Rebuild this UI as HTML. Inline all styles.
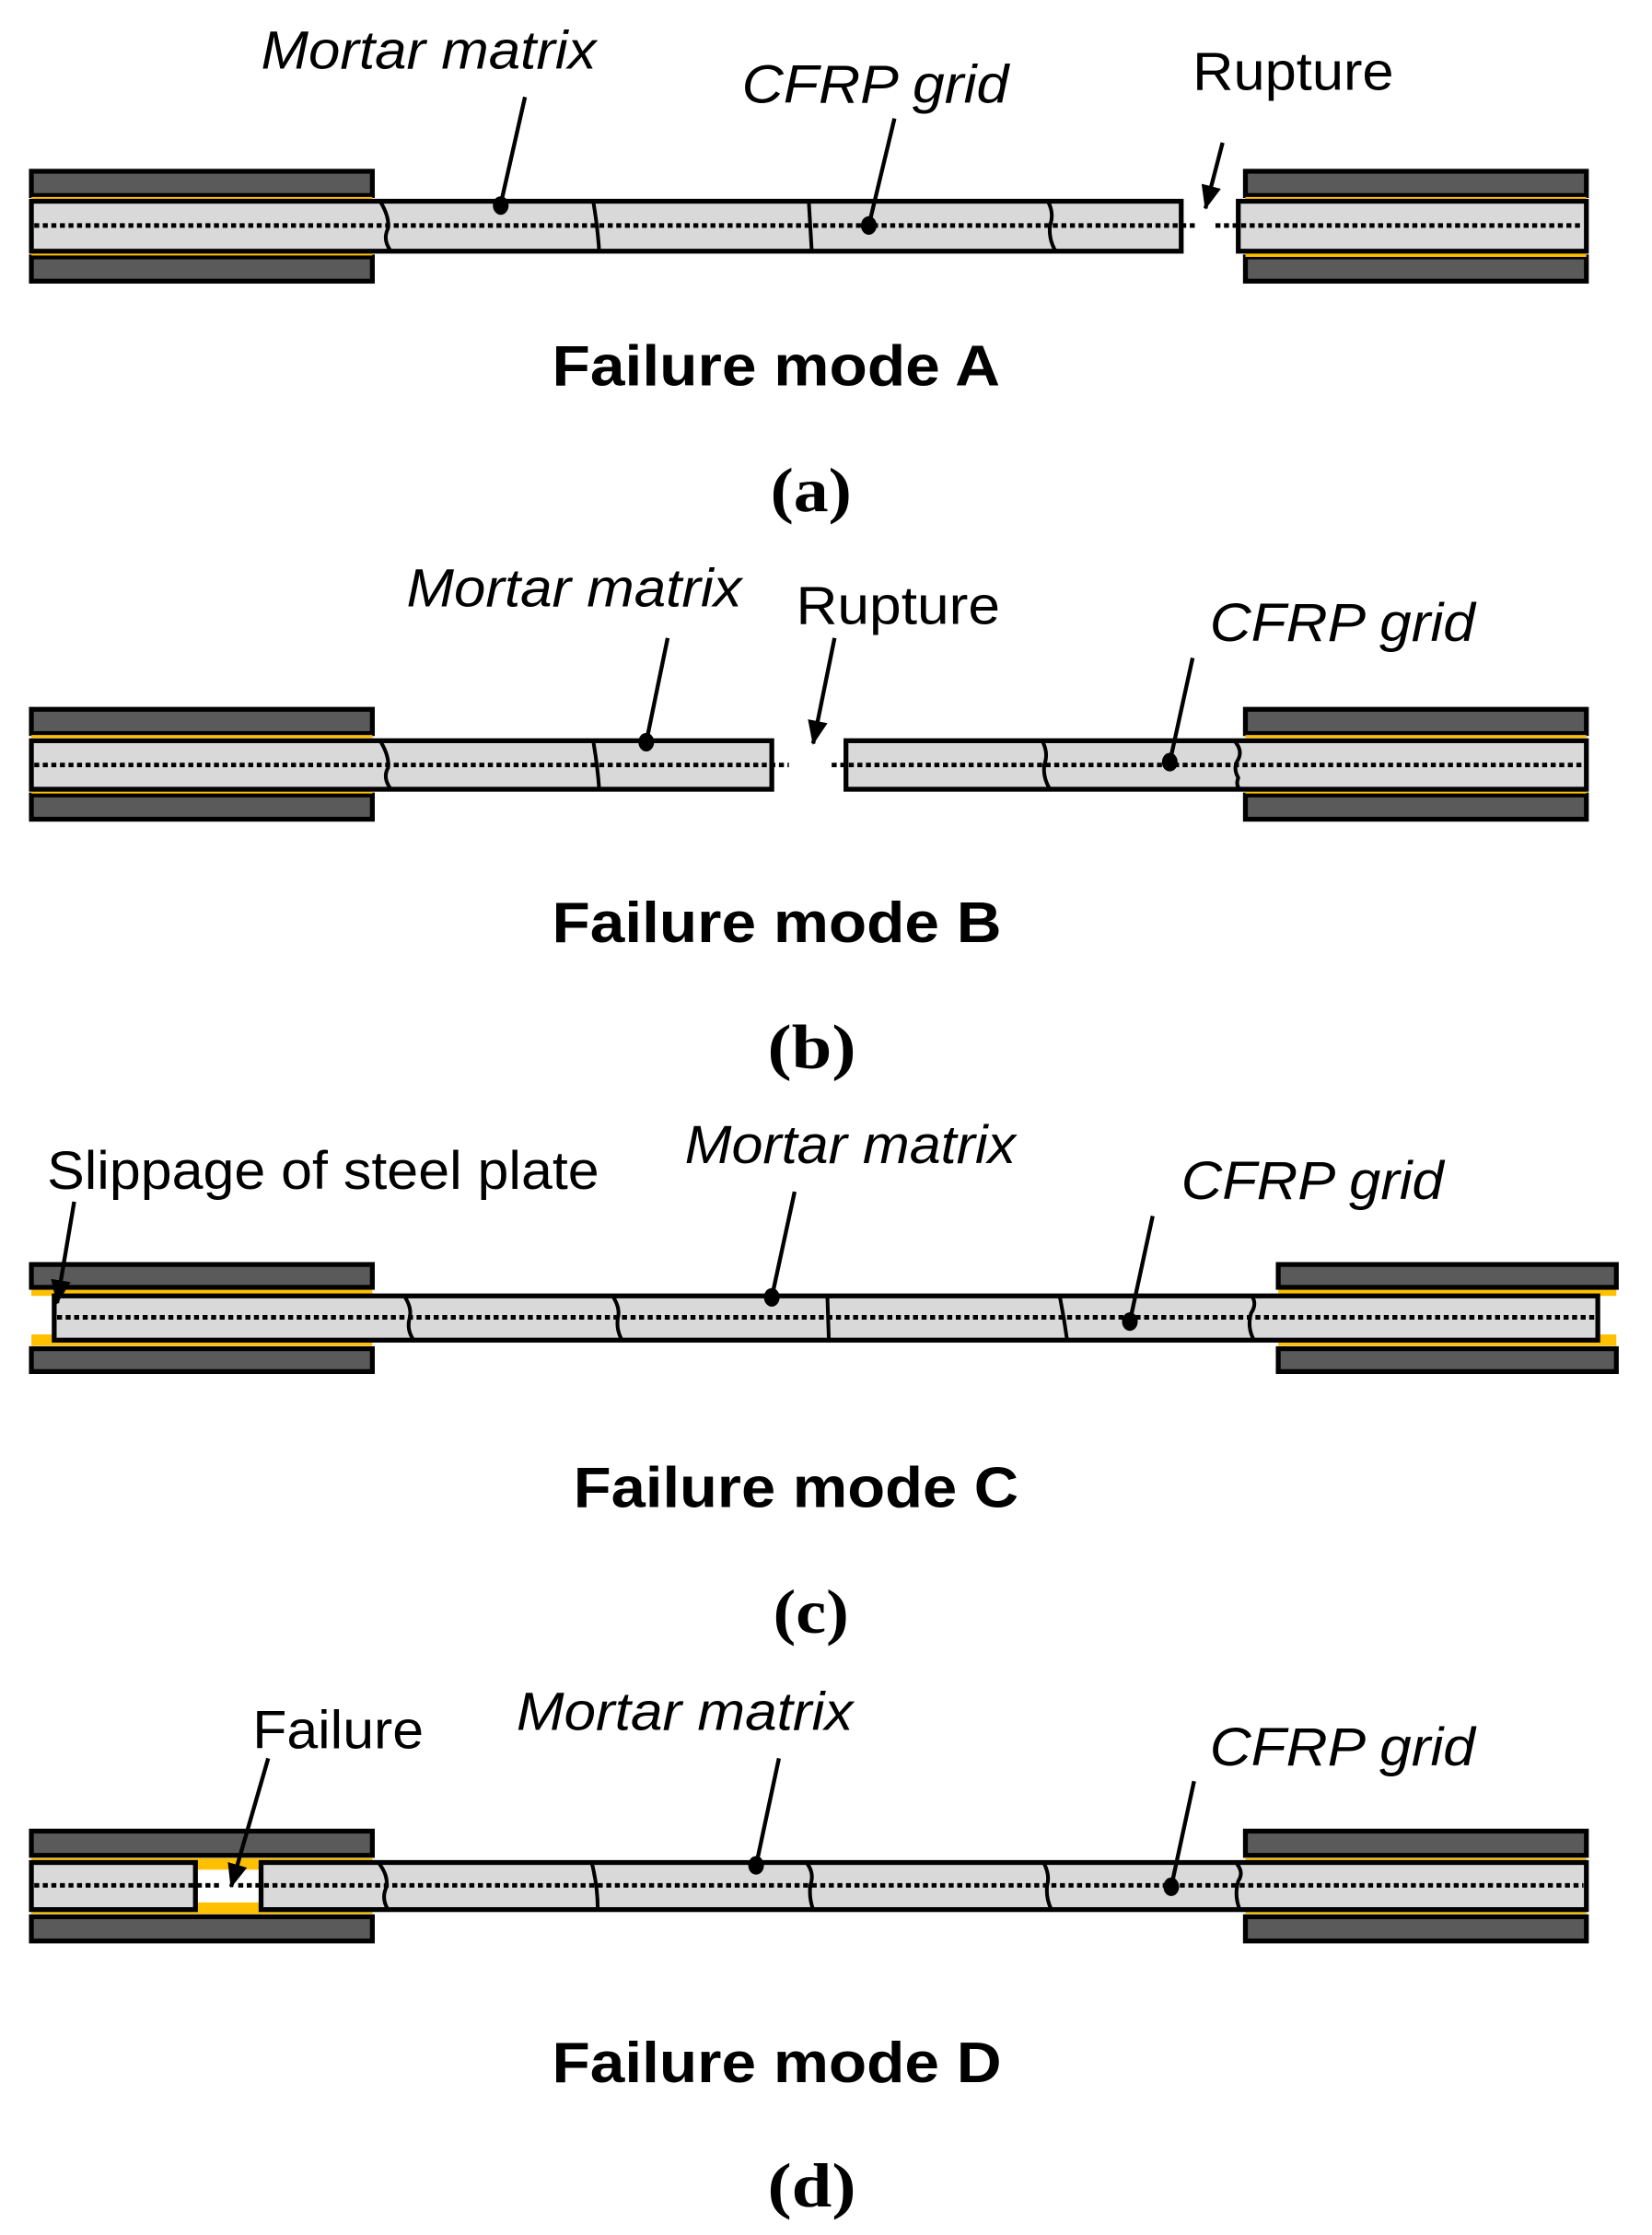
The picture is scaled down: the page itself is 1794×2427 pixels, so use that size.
<!DOCTYPE html>
<html><head><meta charset="utf-8"><style>
html,body{margin:0;padding:0;background:#fff;}
svg{display:block;}
.lab{font-family:"Liberation Sans",Arial,sans-serif;font-size:38px;}
.it{font-style:italic;}
.bold{font-weight:bold;font-size:40px;}
.ser{font-family:"Liberation Serif",serif;font-weight:bold;font-size:44px;}
</style></head><body>
<svg width="1794" height="2427" viewBox="0 0 1158 1566" preserveAspectRatio="none" xmlns="http://www.w3.org/2000/svg">
<defs>
<marker id="ah" markerWidth="18" markerHeight="14" refX="16" refY="7" orient="auto" markerUnits="userSpaceOnUse"><path d="M0,0 L17,7 L0,14 Z" fill="#000"/></marker>
</defs>
<g stroke="#000" stroke-width="3.4">
<!-- ===== Panel A ===== -->
<rect x="22" y="120" width="239" height="17" fill="#5a5a5a"/>
<rect x="22" y="180" width="239" height="17" fill="#5a5a5a"/>
<rect x="873" y="120" width="239" height="17" fill="#5a5a5a"/>
<rect x="873" y="180" width="239" height="17" fill="#5a5a5a"/>
<rect x="22" y="138" width="239" height="2" fill="#ffc000" stroke="none"/>
<rect x="22" y="177" width="239" height="2" fill="#ffc000" stroke="none"/>
<rect x="873" y="138" width="239" height="2" fill="#ffc000" stroke="none"/>
<rect x="873" y="175" width="239" height="5" fill="#ffc000" stroke="none"/>
<rect x="22" y="141" width="806" height="35" fill="#d9d9d9"/>
<rect x="868" y="141" width="244" height="35" fill="#d9d9d9"/>
<line x1="24" y1="158" x2="840" y2="158" stroke-dasharray="3.5 2.5" stroke-width="3.2"/>
<line x1="852" y1="158" x2="1110" y2="158" stroke-dasharray="3.5 2.5" stroke-width="3.2"/>
<!-- ===== Panel B ===== -->
<rect x="22" y="497" width="239" height="17" fill="#5a5a5a"/>
<rect x="22" y="557" width="239" height="17" fill="#5a5a5a"/>
<rect x="873" y="497" width="239" height="17" fill="#5a5a5a"/>
<rect x="873" y="557" width="239" height="17" fill="#5a5a5a"/>
<rect x="22" y="515" width="239" height="2" fill="#ffc000" stroke="none"/>
<rect x="22" y="554" width="239" height="2" fill="#ffc000" stroke="none"/>
<rect x="873" y="515" width="239" height="2" fill="#ffc000" stroke="none"/>
<rect x="873" y="554" width="239" height="2" fill="#ffc000" stroke="none"/>
<rect x="22" y="519" width="519" height="34" fill="#d9d9d9"/>
<rect x="593" y="519" width="519" height="34" fill="#d9d9d9"/>
<line x1="24" y1="536" x2="553" y2="536" stroke-dasharray="3.5 2.5" stroke-width="3.2"/>
<line x1="583" y1="536" x2="1110" y2="536" stroke-dasharray="3.5 2.5" stroke-width="3.2"/>
<!-- ===== Panel C ===== -->
<rect x="22" y="903" width="239" height="5" fill="#ffc000" stroke="none"/>
<rect x="22" y="935" width="239" height="8" fill="#ffc000" stroke="none"/>
<rect x="896" y="903" width="237" height="5" fill="#ffc000" stroke="none"/>
<rect x="896" y="935" width="237" height="8" fill="#ffc000" stroke="none"/>
<rect x="22" y="886" width="239" height="16" fill="#5a5a5a"/>
<rect x="22" y="945" width="239" height="16" fill="#5a5a5a"/>
<rect x="896" y="886" width="237" height="16" fill="#5a5a5a"/>
<rect x="896" y="945" width="237" height="16" fill="#5a5a5a"/>
<rect x="38" y="908" width="1082" height="31" fill="#d9d9d9"/>
<line x1="40" y1="923" x2="1118" y2="923" stroke-dasharray="3.5 2.5" stroke-width="3.2"/>
<!-- ===== Panel D ===== -->
<rect x="22" y="1302" width="239" height="2" fill="#ffc000" stroke="none"/>
<rect x="22" y="1339" width="239" height="2" fill="#ffc000" stroke="none"/>
<rect x="873" y="1302" width="239" height="2" fill="#ffc000" stroke="none"/>
<rect x="873" y="1339" width="239" height="2" fill="#ffc000" stroke="none"/>
<rect x="138" y="1303" width="44" height="7" fill="#ffc000" stroke="none"/>
<rect x="138" y="1333" width="44" height="7" fill="#ffc000" stroke="none"/>
<rect x="22" y="1283" width="239" height="17" fill="#5a5a5a"/>
<rect x="22" y="1343" width="239" height="17" fill="#5a5a5a"/>
<rect x="873" y="1283" width="239" height="17" fill="#5a5a5a"/>
<rect x="873" y="1343" width="239" height="17" fill="#5a5a5a"/>
<rect x="22" y="1305" width="115" height="33" fill="#d9d9d9"/>
<rect x="183" y="1305" width="929" height="33" fill="#d9d9d9"/>
<line x1="24" y1="1321" x2="156" y2="1321" stroke-dasharray="3.5 2.5" stroke-width="3.2"/>
<line x1="167" y1="1321" x2="1110" y2="1321" stroke-dasharray="3.5 2.5" stroke-width="3.2"/>
</g>
<!-- cracks -->
<g fill="none" stroke="#000" stroke-width="2.6">
<path d="M267,142 Q273,152 272,160 Q268,168 274,176"/>
<path d="M416,142 Q419,160 420,176"/>
<path d="M567,142 Q568,160 569,176"/>
<path d="M735,142 Q739,150 736,158 Q735,168 740,176"/>
<path d="M267,520 Q273,530 272,538 Q268,545 274,553"/>
<path d="M416,520 Q419,538 420,553"/>
<path d="M731,520 Q735,528 732,536 Q731,545 736,553"/>
<path d="M866,520 Q871,526 868,532 Q864,538 868,545 Q866,550 869,553"/>
<path d="M284,909 Q289,917 287,924 Q285,932 290,939"/>
<path d="M430,909 Q435,917 433,924 Q432,932 436,939"/>
<path d="M580,909 L581,939"/>
<path d="M743,909 Q746,924 748,939"/>
<path d="M878,909 Q881,914 877,920 Q874,930 879,939"/>
<path d="M266,1306 Q272,1314 271,1322 Q267,1330 272,1338"/>
<path d="M415,1306 Q419,1322 419,1338"/>
<path d="M566,1306 Q571,1313 568,1321 Q567,1330 570,1338"/>
<path d="M732,1306 Q736,1314 734,1321 Q733,1330 737,1338"/>
<path d="M867,1306 Q872,1312 868,1318 Q865,1328 869,1338"/>
</g>
<!-- leaders -->
<g stroke="#000" stroke-width="2.8" fill="none">
<line x1="368" y1="68" x2="351" y2="143"/>
<line x1="627" y1="83" x2="609" y2="158"/>
<line x1="857" y1="100" x2="845" y2="146" marker-end="url(#ah)"/>
<line x1="468" y1="447" x2="453" y2="520"/>
<line x1="585" y1="447" x2="570" y2="521" marker-end="url(#ah)"/>
<line x1="836" y1="461" x2="820" y2="534"/>
<line x1="52" y1="842" x2="40" y2="913" marker-end="url(#ah)"/>
<line x1="557" y1="835" x2="541" y2="909"/>
<line x1="808" y1="852" x2="792" y2="926"/>
<line x1="188" y1="1232" x2="162" y2="1322" marker-end="url(#ah)"/>
<line x1="546" y1="1232" x2="530" y2="1307"/>
<line x1="837" y1="1248" x2="821" y2="1322"/>
</g>
<g fill="#000">
<ellipse cx="351" cy="144" rx="5.5" ry="6.5"/>
<ellipse cx="609" cy="158" rx="5.5" ry="6.5"/>
<ellipse cx="453" cy="520" rx="5.5" ry="6.5"/>
<ellipse cx="820" cy="534" rx="5.5" ry="6.5"/>
<ellipse cx="541" cy="909" rx="5.5" ry="6.5"/>
<ellipse cx="792" cy="926" rx="5.5" ry="6.5"/>
<ellipse cx="530" cy="1307" rx="5.5" ry="6.5"/>
<ellipse cx="821" cy="1322" rx="5.5" ry="6.5"/>
</g>
<!-- labels -->
<g fill="#000">
<text class="lab it" x="183" y="48" textLength="235" lengthAdjust="spacingAndGlyphs">Mortar matrix</text>
<text class="lab it" x="520" y="72" textLength="187" lengthAdjust="spacingAndGlyphs">CFRP grid</text>
<text class="lab" x="836" y="63" textLength="141" lengthAdjust="spacingAndGlyphs">Rupture</text>
<text class="lab bold" x="387" y="270" textLength="314" lengthAdjust="spacingAndGlyphs">Failure mode A</text>
<text class="ser" x="540" y="358" textLength="57" lengthAdjust="spacingAndGlyphs">(a)</text>

<text class="lab it" x="285" y="425" textLength="235" lengthAdjust="spacingAndGlyphs">Mortar matrix</text>
<text class="lab" x="558" y="437" textLength="143" lengthAdjust="spacingAndGlyphs">Rupture</text>
<text class="lab it" x="848" y="449" textLength="186" lengthAdjust="spacingAndGlyphs">CFRP grid</text>
<text class="lab bold" x="387" y="660" textLength="315" lengthAdjust="spacingAndGlyphs">Failure mode B</text>
<text class="ser" x="538" y="748" textLength="62" lengthAdjust="spacingAndGlyphs">(b)</text>

<text class="lab" x="33" y="833" textLength="387" lengthAdjust="spacingAndGlyphs">Slippage of steel plate</text>
<text class="lab it" x="480" y="815" textLength="232" lengthAdjust="spacingAndGlyphs">Mortar matrix</text>
<text class="lab it" x="828" y="840" textLength="184" lengthAdjust="spacingAndGlyphs">CFRP grid</text>
<text class="lab bold" x="402" y="1056" textLength="312" lengthAdjust="spacingAndGlyphs">Failure mode C</text>
<text class="ser" x="542" y="1144" textLength="53" lengthAdjust="spacingAndGlyphs">(c)</text>

<text class="lab" x="177" y="1225" textLength="120" lengthAdjust="spacingAndGlyphs">Failure</text>
<text class="lab it" x="362" y="1212" textLength="236" lengthAdjust="spacingAndGlyphs">Mortar matrix</text>
<text class="lab it" x="848" y="1237" textLength="186" lengthAdjust="spacingAndGlyphs">CFRP grid</text>
<text class="lab bold" x="387" y="1459" textLength="315" lengthAdjust="spacingAndGlyphs">Failure mode D</text>
<text class="ser" x="538" y="1546" textLength="62" lengthAdjust="spacingAndGlyphs">(d)</text>
</g>
</svg>
</body></html>
